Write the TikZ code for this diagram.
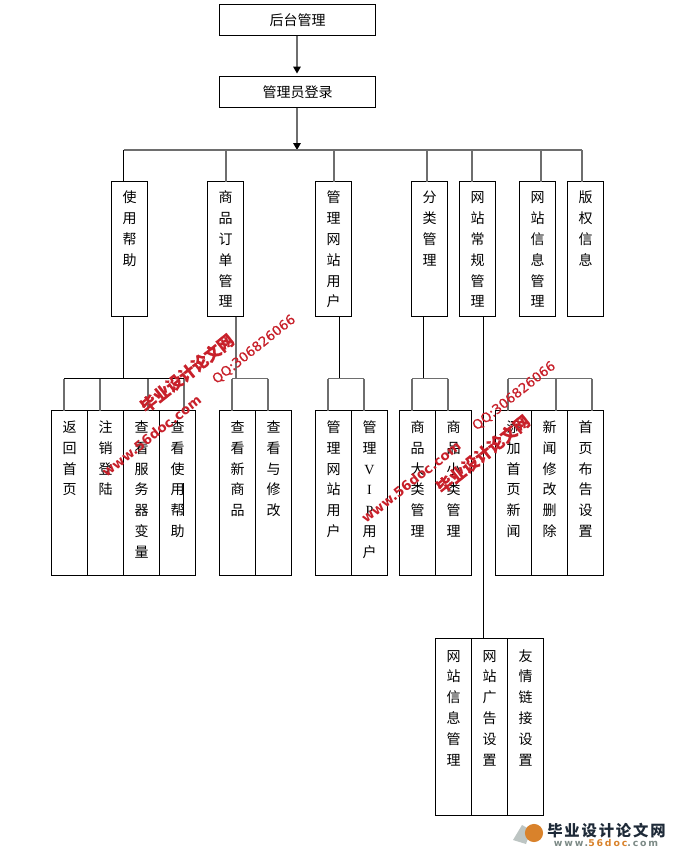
\documentclass[tikz,border=0pt]{standalone}
\usepackage{fontspec}
\usetikzlibrary{arrows.meta,positioning}
\setmainfont{Liberation Serif}
\newfontfamily\cjk{Noto Sans CJK SC}
\newfontfamily\wmcjk[BoldFeatures={FakeBold=0.6}]{Noto Sans CJK SC}
\newfontfamily\latn{Liberation Serif}
\newfontfamily\wmlatin[FakeBold=0.4]{DejaVu Sans}
\newfontfamily\wmurl{DejaVu Sans}
\newfontfamily\logofont[LetterSpace=12]{Noto Sans CJK SC}
\newfontfamily\logolatin[LetterSpace=20]{DejaVu Sans}
\definecolor{Wred}{HTML}{C8202A}
\definecolor{Line}{HTML}{6E6E6E}
\definecolor{LogoInk}{HTML}{1E2A38}
\definecolor{LogoGrey}{HTML}{7C8A86}
\definecolor{LogoOrange}{HTML}{D9822B}
\begin{document}
\begin{tikzpicture}[
  x=0.75pt,y=-0.75pt,
  boxbase/.style={draw=black,line width=0.75pt,outer sep=0pt,inner sep=0pt,align=center,font=\cjk\fontsize{10.5}{15.6}\selectfont},
  wide/.style={boxbase,minimum width=117pt,minimum height=23.25pt},
  tall/.style={boxbase,text width=27pt,text height=16pt,text depth=85.25pt},
  leaf/.style={boxbase,text width=27pt,text height=16.5pt,text depth=107.6pt},
  deep/.style={boxbase,text width=27pt,text height=17pt,text depth=115.75pt},
  wire/.style={draw=black,line width=0.75pt},
  grey/.style={draw=Line,line width=1.125pt},
  arrow/.style={grey,shorten >=2.2pt,-{Triangle[length=5.2pt,width=5.6pt,color=black]}},
  wmark/.style={text=Wred,rotate=38.5,inner sep=0pt}
]
\useasboundingbox (0,0) rectangle (676,853);
\fill[white] (0,0) rectangle (676,853);

\node[wide,anchor=north west] (root) at (219.5,4.5) {后台管理};
\node[wide,anchor=north west] (login) at (219.5,76.5) {管理员登录};

\node[tall,anchor=north west] (help) at (111.5,181.5) {使\\用\\帮\\助};
\node[tall,anchor=north west] (order) at (207.5,181.5) {商\\品\\订\\单\\管\\理};
\node[tall,anchor=north west] (user) at (315.5,181.5) {管\\理\\网\\站\\用\\户};
\node[tall,anchor=north west] (cate) at (411.5,181.5) {分\\类\\管\\理};
\node[tall,anchor=north west] (site) at (459.5,181.5) {网\\站\\常\\规\\管\\理};
\node[tall,anchor=north west] (info) at (519.5,181.5) {网\\站\\信\\息\\管\\理};
\node[tall,anchor=north west] (copy) at (567.5,181.5) {版\\权\\信\\息};

\node[leaf,anchor=north west] (home) at (51.5,410.5) {返\\回\\首\\页};
\node[leaf,right=0pt of home] (logout) {注\\销\\登\\陆};
\node[leaf,right=0pt of logout] (vars) {查\\看\\服\\务\\器\\变\\量};
\node[leaf,right=0pt of vars] (guide) {查\\看\\使\\用\\帮\\助};

\node[leaf,anchor=north west] (newgoods) at (219.5,410.5) {查\\看\\新\\商\\品};
\node[leaf,right=0pt of newgoods] (editgoods) {查\\看\\与\\修\\改};

\node[leaf,anchor=north west] (siteuser) at (315.5,410.5) {管\\理\\网\\站\\用\\户};
\node[leaf,right=0pt of siteuser] (vipuser) {管\\理\\{\latn V}\\{\latn I}\\{\latn P}\\用\\户};

\node[leaf,anchor=north west] (bigcate) at (399.5,410.5) {商\\品\\大\\类\\管\\理};
\node[leaf,right=0pt of bigcate] (smallcate) {商\\品\\小\\类\\管\\理};

\node[leaf,anchor=north west] (addnews) at (495.5,410.5) {添\\加\\首\\页\\新\\闻};
\node[leaf,right=0pt of addnews] (editnews) {新\\闻\\修\\改\\删\\除};
\node[leaf,right=0pt of editnews] (notice) {首\\页\\布\\告\\设\\置};

\node[deep,anchor=north west] (siteinfo) at (435.5,638.5) {网\\站\\信\\息\\管\\理};
\node[deep,right=0pt of siteinfo] (adset) {网\\站\\广\\告\\设\\置};
\node[deep,right=0pt of adset] (linkset) {友\\情\\链\\接\\设\\置};

\coordinate (busmid) at (297,150);
\coordinate (busl) at (123.5,150);
\coordinate (busb) at (226,150);
\coordinate (busc) at (334,150);
\coordinate (busd) at (427,150);
\coordinate (buse) at (472,150);
\coordinate (busf) at (541,150);
\coordinate (busr) at (582,150);
\draw[arrow] (root.south -| busmid) -- (login.north -| busmid);
\draw[arrow,shorten >=0pt] (login.south -| busmid) -- (busmid);
\draw[grey] (busl) -- (busr);
\draw[wire] (busl) -- (busl |- help.north);
\draw[grey] (busb) -- (busb |- order.north);
\draw[grey] (busc) -- (busc |- user.north);
\draw[grey] (busd) -- (busd |- cate.north);
\draw[grey] (buse) -- (buse |- site.north);
\draw[grey] (busf) -- (busf |- info.north);
\draw[grey] (busr) -- (busr |- copy.north);

\coordinate (helpbus) at (123.5,378.5);
\coordinate (ha) at (64,378.5);
\coordinate (hb) at (100,378.5);
\coordinate (hc) at (148,378.5);
\coordinate (hd) at (184,378.5);
\draw[wire] (helpbus |- help.south) -- (helpbus);
\draw[wire] (ha) -- (hd);
\draw[grey] (ha) -- (ha |- home.north);
\draw[grey] (hb) -- (hb |- logout.north);
\draw[grey] (hc) -- (hc |- vars.north);
\draw[grey] (hd) -- (hd |- guide.north);
\coordinate (marka) at (183.5,483);
\coordinate (markb) at (183.5,516);
\draw[draw=black,line width=1.2pt] (marka) -- (markb);

\coordinate (orderbus) at (236,378.5);
\coordinate (oa) at (232,378.5);
\coordinate (ob) at (268,378.5);
\draw[grey] (orderbus |- order.south) -- (orderbus);
\draw[grey] (oa) -- (ob);
\draw[grey] (oa) -- (oa |- newgoods.north);
\draw[grey] (ob) -- (ob |- editgoods.north);

\coordinate (userbus) at (339.5,378.5);
\coordinate (ua) at (328,378.5);
\coordinate (ub) at (364,378.5);
\draw[wire] (userbus |- user.south) -- (userbus);
\draw[grey] (ua) -- (ub);
\draw[grey] (ua) -- (ua |- siteuser.north);
\draw[grey] (ub) -- (ub |- vipuser.north);

\coordinate (catebus) at (423.5,378.5);
\coordinate (ca) at (412,378.5);
\coordinate (cb) at (448,378.5);
\draw[wire] (catebus |- cate.south) -- (catebus);
\draw[grey] (ca) -- (cb);
\draw[grey] (ca) -- (ca |- bigcate.north);
\draw[grey] (cb) -- (cb |- smallcate.north);

\coordinate (na) at (508,378.5);
\coordinate (nb) at (556,378.5);
\coordinate (nc) at (592,378.5);
\draw[grey] (na) -- (nc);
\draw[grey] (na) -- (na |- addnews.north);
\draw[grey] (nb) -- (nb |- editnews.north);
\draw[grey] (nc) -- (nc |- notice.north);

\coordinate (sitestem) at (483.7,400);
\draw[wire] (sitestem |- site.south) -- (sitestem |- adset.north);

\node[wmark,font=\wmcjk\bfseries\fontsize{12.2}{12.2}\selectfont] (wmaa) at (187,373) {毕业设计论文网};
\node[wmark,font=\wmurl\bfseries\fontsize{10}{10}\selectfont] (wmab) at (151.5,436) {www.56doc.com};
\node[wmark,font=\wmlatin\fontsize{10}{10}\selectfont] (wmac) at (254,349.5) {QQ:306826066};
\node[wmark,font=\wmurl\bfseries\fontsize{10}{10}\selectfont] (wmba) at (411,482) {www.56doc.com};
\node[wmark,font=\wmcjk\bfseries\fontsize{12.2}{12.2}\selectfont] (wmbb) at (483,454) {毕业设计论文网};
\node[wmark,font=\wmlatin\fontsize{10}{10}\selectfont] (wmbc) at (514,396) {QQ:306826066};

\fill[LogoGrey!50] (513,840) -- (522,825) -- (531,830) -- (526,844) -- cycle;
\fill[LogoOrange] (534,833) circle (6.8pt);
\node[inner sep=0pt,text=LogoInk,font=\logofont\bfseries\fontsize{11.5}{12}\selectfont] (logotitle) at (606.5,830.5) {毕业设计论文网};
\node[inner sep=0pt,text=LogoGrey,font=\logolatin\bfseries\fontsize{7}{8}\selectfont] (logourl) at (606,843) {www.{\color{LogoOrange}56doc}.com};
\end{tikzpicture}
\end{document}
